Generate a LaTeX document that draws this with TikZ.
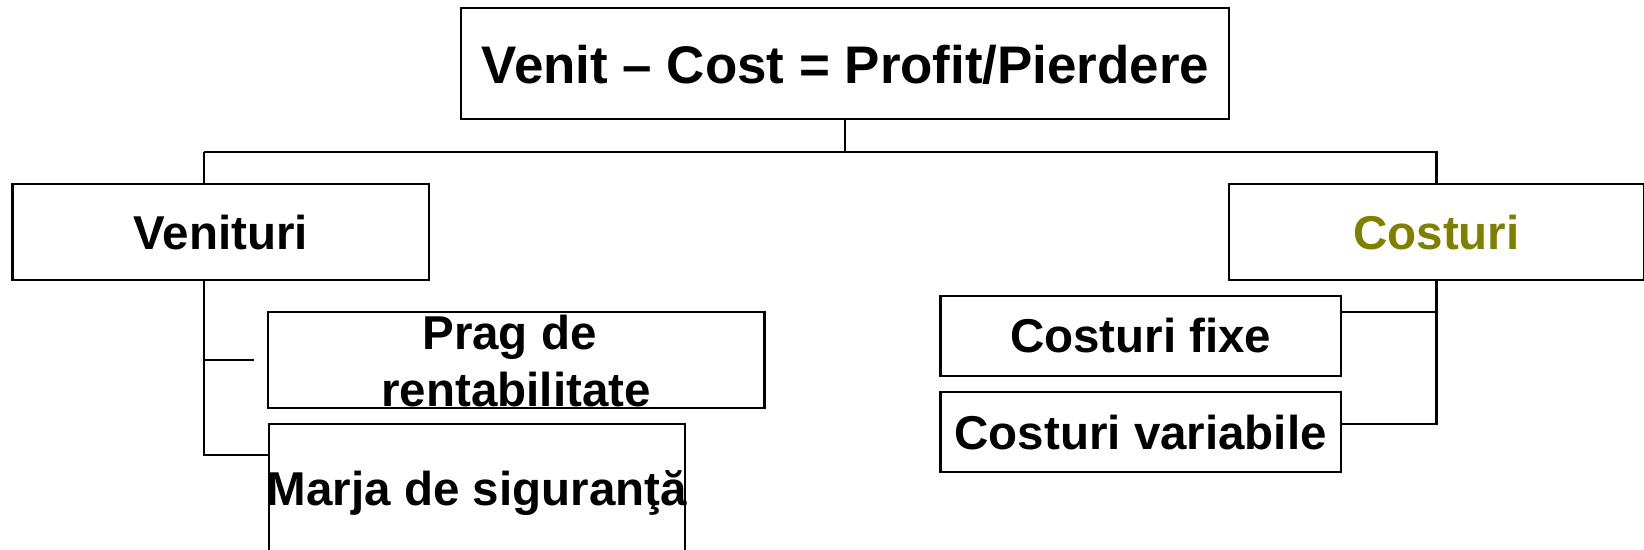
\documentclass[tikz,border=0pt]{standalone}
\usepackage{fontspec}
\setmainfont{Liberation Sans}
\definecolor{olivetxt}{RGB}{128,128,0}
\tikzset{
  box/.style={draw=black, line width=1.15pt, inner sep=0pt, rectangle},
  conn/.style={draw=black, line width=1.05pt},
  bigtxt/.style={inner sep=0pt, anchor=base, font=\bfseries\fontsize{26.45pt}{31pt}\selectfont},
  midtxt/.style={inner sep=0pt, anchor=base, font=\bfseries\fontsize{23.75pt}{28pt}\selectfont}
}
\begin{document}
\begin{tikzpicture}[x=0.5pt,y=-0.5pt]
\useasboundingbox (0,0) rectangle (1644,550);
\clip (0,0) rectangle (1644,550);
% boxes
\node[box, minimum width=384.05pt, minimum height=55.65pt] (top) at (844.75,63.65) {};
\node[box, minimum width=208.1pt, minimum height=48pt] (ven) at (220.7,232) {};
\node[box, minimum width=207.55pt, minimum height=48pt] (cos) at (1436.45,232) {};
\node[box, minimum width=248.35pt, minimum height=48.05pt] (prag) at (516.05,359.75) {};
\node[box, minimum width=208.15pt, minimum height=78pt] (mar) at (476.85,502) {};
\node[box, minimum width=200.25pt, minimum height=40.15pt] (cf) at (1140.75,335.85) {};
\node[box, minimum width=200.25pt, minimum height=39.7pt] (cv) at (1140.75,432) {};
% texts
\node[bigtxt] (ttop) at (845.5,84) {Venit – Cost = Profit/Pierdere};
\node[midtxt] (tven) at (220.7,249.5) {Venituri};
\node[midtxt, text=olivetxt] (tcos) at (1436.45,249.5) {Costuri};
\node[midtxt] (tprag1) at (516.05,349.5) {Prag de\kern0.278em};
\node[midtxt] (tprag2) at (516.05,407) {rentabilitate};
\node[midtxt] (tmar) at (476.85,505) {Marja de siguranţă};
\node[midtxt] (tcf) at (1140.75,353) {Costuri fixe};
\node[midtxt] (tcv) at (1140.75,450) {Costuri variabile};
% connector coordinates
\coordinate (vx) at (204.3,152.3);
\coordinate (pe) at (254,359.7);
\coordinate (bm) at (268.7,455.3);
\coordinate (cfb) at (1341,312);
\coordinate (cvb) at (1341,423.7);
% connectors
\draw[conn] (top.south) -- (top.south |- vx);
\draw[conn] (vx) -- (cos.north |- vx) -- (cos.north);
\draw[conn] (vx) -- (vx |- ven.north);
\draw[conn] (vx |- ven.south) |- (bm);
\draw[conn] (vx |- pe) -- (pe);
\draw[conn] (cos.south) |- (cvb);
\draw[conn] (cos.south |- cfb) -- (cfb);
\end{tikzpicture}
\end{document}
